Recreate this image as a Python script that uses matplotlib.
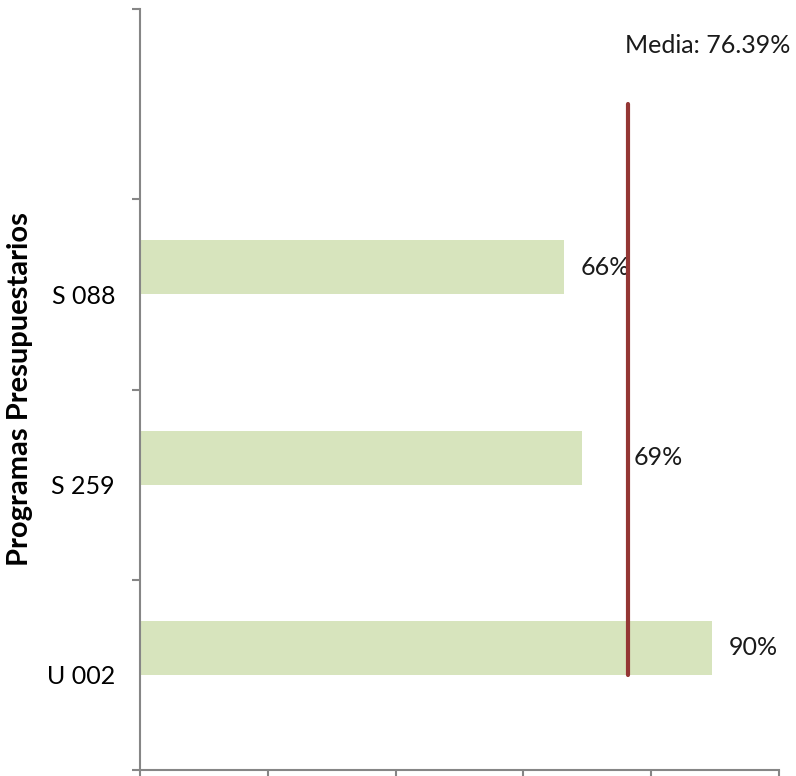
import numpy as np
import matplotlib.pyplot as plt

programas = ["U 002", "S 259", "S 088"]
valores = [89.5, 69.2, 66.4]
media = 76.39
x_ticks = [0, 20, 40, 60, 80, 100]

plt.rcParams['font.family'] = ['Lato', 'DejaVu Sans']

fig = plt.figure(figsize=(7.96, 7.76), dpi=100)
ax = fig.add_axes([0.1759, 0.0077, 0.8027, 0.9807])

pos = np.arange(len(programas))
bar_h = 0.284
ax.barh(pos + bar_h / 2, valores, height=bar_h, color="#D7E4BD", zorder=1)

# linea de la media
ax.plot([media, media], [0, 3], color="#943634", lw=3, solid_capstyle="round", zorder=3)
ax.text(88.9, 3.31, f"Media: {media:.2f}%", ha="center", va="center", fontsize=18, color="#1a1a1a")

# la etiqueta de S 259 esta corrida a la derecha de la linea
label_dx = [2.6, 8.0, 2.6]
for p, v, dx in zip(pos, valores, label_dx):
    ax.text(v + dx, p + bar_h / 2, f"{v:.0f}%", ha="left", va="center",
            fontsize=18, color="#1a1a1a", zorder=2)

ax.set_xlim(0, 100)
ax.set_ylim(-0.5, 3.5)
ax.set_xticks(x_ticks)
ax.set_xticklabels([])
ax.set_yticks(np.arange(-0.5, 3.6, 1))
ax.set_yticklabels([])
ax.set_yticks(pos, minor=True)
ax.set_yticklabels(programas, minor=True, fontsize=18)
ax.tick_params(axis="y", which="minor", length=0, pad=18)
ax.tick_params(axis="both", which="major", length=6, width=1.5, color="#868686", direction="out")

for s in ["top", "right"]:
    ax.spines[s].set_visible(False)
for s in ["left", "bottom"]:
    ax.spines[s].set_color("#868686")
    ax.spines[s].set_linewidth(1.5)

ax.set_ylabel("Programas Presupuestarios", fontsize=21, fontweight="bold")
ax.yaxis.set_label_coords(-0.168, 0.5)

fig.savefig("out.png", dpi=100)
